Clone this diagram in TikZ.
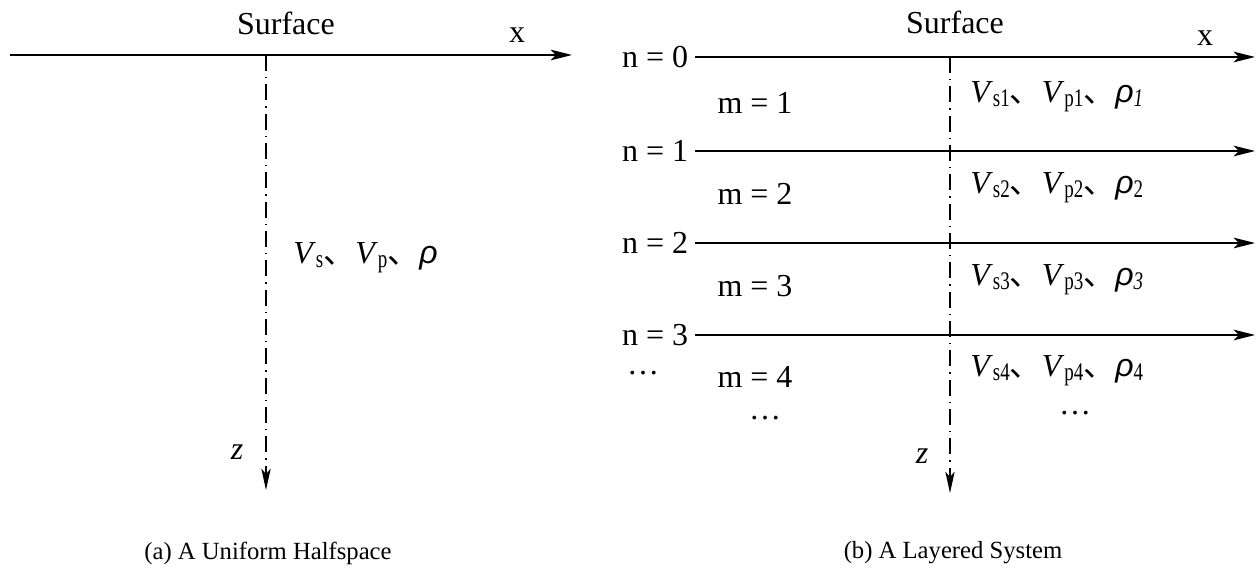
\documentclass[tikz,border=0pt]{standalone}
\usepackage{graphicx}
\usepackage{fontspec}
\setmainfont{Liberation Serif}
\newfontfamily\sansit{Liberation Sans}
\newfontfamily\cjk{Noto Sans CJK SC}
\usetikzlibrary{arrows.meta,positioning,calc}
\newcommand{\subtxt}[1]{\raisebox{-0.3ex}{\scalebox{0.75}[1]{\fontsize{19}{19}\selectfont #1}}}
\newcommand{\vel}[1]{\textit{V}\subtxt{#1}}
\newcommand{\dun}{{\cjk 、}}
\newcommand{\rh}[1]{{\sansit\itshape ρ}\subtxt{#1}}

\begin{document}
\begin{tikzpicture}[x=0.75pt,y=-0.75pt,
  every node/.style={font=\fontsize{24}{28}\selectfont, inner sep=0pt},
  axis/.style={-{Stealth[length=16pt,width=8pt,inset=4pt]}, line width=1.4pt},
  depth/.style={-{Stealth[length=16pt,width=7pt,inset=4pt]}, line width=1.1pt,
    dash pattern=on 12pt off 4.5pt on 1pt off 4.5pt},
  caption/.style={font=\fontsize{18.5}{22}\selectfont}]
\useasboundingbox (0,0) rectangle (1257,574);

% (a) uniform halfspace
\coordinate (a0) at (10,55);
\coordinate (a1) at (572,55);
\coordinate (ztop) at (266,55);
\coordinate (zend) at (266,490);
\draw[axis] (a0) -- (a1);
\draw[depth] (ztop) -- (zend);
\node (surfA) at (286,23) {Surface};
\node (xA) at (517,35) {x};
\node[anchor=west] (propA) at (293,258) {\vel{s}\dun\vel{p}\dun\rh{}};
\node (zA) at (237,452) {\textit{z}};
\node[caption] (capA) at (268,553) {(a) A Uniform Halfspace};

% (b) layered system
\foreach \i/\y in {0/57,1/151,2/243,3/335}{
  \coordinate (s\i) at (695,\y);
  \coordinate (e\i) at (1255,\y);
  \node[left=5pt of s\i] (n\i) {n = \i};
  \draw[axis] (s\i) -- (e\i);
}
\coordinate (zbot) at (950,493);
\draw[depth] (950,57) -- (zbot);
\node (surfB) at (955,22) {Surface};
\node (xB) at (1205,38) {x};
\foreach \i/\y/\rs in {1/103/\itshape,2/194/,3/286/\itshape,4/377/}{
  \node (m\i) at (755,\y) {m = \i};
  \node[anchor=west] (p\i) at (970,\y-6) {\vel{s\i}\dun\vel{p\i}\dun\rh{\rs\i}};
}
\node (dotsL) at (643,373) {\dots};
\node (dotsM) at (765,418) {\dots};
\node (dotsR) at (1075,413) {\dots};
\node (zB) at (922,456) {\textit{z}};
\node[caption] (capB) at (953,553) {(b) A Layered System};
\end{tikzpicture}
\end{document}
